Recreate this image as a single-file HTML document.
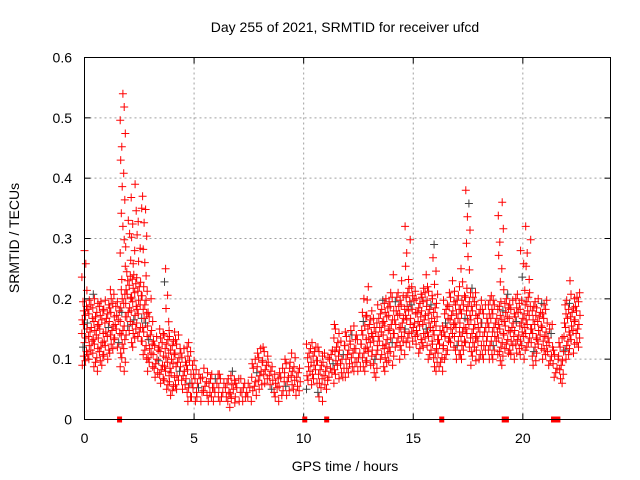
<!DOCTYPE html>
<html><head><meta charset="utf-8"><style>
body{margin:0;background:#fff;}
svg{display:block;font-family:"Liberation Sans",sans-serif;}
</style></head><body>
<svg id="chart" width="640" height="480">
<text x="345" y="32" text-anchor="middle" font-size="14">Day 255 of 2021, SRMTID for receiver ufcd</text>
<text x="345" y="471" text-anchor="middle" font-size="14">GPS time / hours</text>
<text transform="translate(19,238) rotate(-90)" text-anchor="middle" font-size="14">SRMTID / TECUs</text>
<g id="grid"></g>
<g id="ticks"></g>
<g id="marks"></g>
<rect x="84.5" y="57.5" width="526" height="362" fill="none" stroke="#000" stroke-width="1"/>
</svg>
<script>
const xTicks=[0,5,10,15,20];
const yTicks=[0,0.1,0.2,0.3,0.4,0.5,0.6];
const yTickLabels=["0","0.1","0.2","0.3","0.4","0.5","0.6"];
const binTimes=[0,0.25,0.5,0.75,1,1.25,1.5,1.75,2,2.25,2.5,2.75,3,3.25,3.5,3.75,4,4.25,4.5,4.75,5,5.25,5.5,5.75,6,6.25,6.5,6.75,7,7.25,7.5,7.75,8,8.25,8.5,8.75,9,9.25,9.5,9.75,10.25,10.5,10.75,11,11.25,11.5,11.75,12,12.25,12.5,12.75,13,13.25,13.5,13.75,14,14.25,14.5,14.75,15,15.25,15.5,15.75,16,16.25,16.5,16.75,17,17.25,17.5,17.75,18,18.25,18.5,18.75,19,19.25,19.5,19.75,20,20.25,20.5,20.75,21,21.25,21.5,21.75,22,22.25,22.5];
const binLow=[0.09,0.10,0.08,0.09,0.10,0.11,0.12,0.08,0.14,0.12,0.13,0.10,0.08,0.07,0.06,0.05,0.04,0.05,0.05,0.03,0.03,0.03,0.04,0.03,0.03,0.03,0.03,0.02,0.03,0.03,0.03,0.04,0.05,0.06,0.05,0.03,0.04,0.04,0.05,0.04,0.05,0.06,0.03,0.05,0.07,0.06,0.07,0.07,0.08,0.08,0.08,0.09,0.07,0.10,0.08,0.09,0.12,0.10,0.12,0.13,0.11,0.12,0.10,0.08,0.08,0.10,0.12,0.10,0.10,0.12,0.09,0.10,0.10,0.10,0.10,0.09,0.11,0.10,0.11,0.10,0.12,0.09,0.11,0.10,0.09,0.07,0.06,0.10,0.11,0.12];
const binCore=[0.20,0.20,0.21,0.20,0.20,0.22,0.20,0.22,0.25,0.24,0.24,0.22,0.18,0.14,0.15,0.15,0.15,0.14,0.12,0.13,0.10,0.08,0.09,0.08,0.08,0.08,0.07,0.08,0.07,0.07,0.06,0.10,0.12,0.12,0.10,0.08,0.09,0.10,0.11,0.09,0.13,0.13,0.12,0.11,0.12,0.16,0.13,0.15,0.16,0.14,0.18,0.18,0.17,0.20,0.20,0.21,0.21,0.21,0.22,0.22,0.21,0.22,0.22,0.21,0.16,0.20,0.21,0.22,0.21,0.22,0.22,0.20,0.19,0.21,0.20,0.20,0.22,0.20,0.21,0.20,0.21,0.20,0.20,0.20,0.16,0.12,0.14,0.20,0.21,0.21];
const binHigh=[0.28,0.20,0.21,0.20,0.20,0.22,0.20,0.54,0.33,0.39,0.35,0.37,0.20,0.14,0.15,0.25,0.15,0.14,0.12,0.13,0.10,0.08,0.09,0.08,0.08,0.08,0.07,0.08,0.07,0.07,0.06,0.10,0.12,0.12,0.10,0.08,0.09,0.10,0.11,0.09,0.13,0.13,0.12,0.11,0.12,0.16,0.13,0.15,0.16,0.14,0.20,0.22,0.17,0.20,0.21,0.24,0.21,0.23,0.32,0.22,0.21,0.24,0.22,0.29,0.16,0.20,0.23,0.22,0.25,0.38,0.22,0.20,0.19,0.21,0.20,0.36,0.22,0.20,0.21,0.28,0.32,0.20,0.20,0.20,0.16,0.12,0.14,0.21,0.23,0.22];
const zeroTimes=[1.6,10.05,11.05,16.3,19.15,19.25,21.4,21.6];

const NS="http://www.w3.org/2000/svg";
const X0=84.5,X1=610.5,Y0=419.5,Y1=57.5;
function xs(t){return X0+(t/24)*(X1-X0);}
function ys(v){return Y0-(v/0.6)*(Y0-Y1);}
function mk(tag,attrs,parent){const e=document.createElementNS(NS,tag);for(const k in attrs)e.setAttribute(k,attrs[k]);parent.appendChild(e);return e;}
const grid=document.getElementById('grid'),ticks=document.getElementById('ticks'),marks=document.getElementById('marks');
xTicks.forEach(t=>{
  const x=xs(t);
  if(t>0){const g=mk('line',{x1:x,y1:Y0,x2:x,y2:Y1,stroke:'#a0a0a0','stroke-dasharray':'2,3'},grid);
  
  }
  mk('line',{x1:x,y1:Y0,x2:x,y2:Y0-6,stroke:'#000'},ticks);
  mk('line',{x1:x,y1:Y1,x2:x,y2:Y1+6,stroke:'#000'},ticks);
  const l=mk('text',{x:x,y:443,'text-anchor':'middle','font-size':'14'},ticks);
  l.textContent=String(t);
  
  
});
yTicks.forEach((v,i)=>{
  const y=ys(v);
  if(i>0&&i<yTicks.length-1){const g=mk('line',{x1:X0,y1:y,x2:X1,y2:y,stroke:'#a0a0a0','stroke-dasharray':'2,3'},grid);
  
  }
  mk('line',{x1:X0,y1:y,x2:X0+6,y2:y,stroke:'#000'},ticks);
  mk('line',{x1:X1,y1:y,x2:X1-6,y2:y,stroke:'#000'},ticks);
  const l=mk('text',{x:72,y:y+5,'text-anchor':'end','font-size':'14'},ticks);
  l.textContent=yTickLabels[i];
  
  
});
const offs=[-0.1,0.04,-0.03,0.09,-0.07,0.0,0.06,-0.12,0.11,-0.05];
let d1='',d2='',n=0;
binTimes.forEach((t,i)=>{
  const lo=binLow[i],core=Math.min(binCore[i],binHigh[i]),hi=binHigh[i];
  const pts=[];
  for(let v=lo;v<=core+1e-9;v+=0.0075)pts.push(v);
  for(let v=hi;v>core+0.01;v-=0.022)pts.push(v);
  pts.forEach(v=>{
    const x=xs(t+offs[n%offs.length]),y=ys(v);
    const p=`M${(x-4).toFixed(1)} ${y.toFixed(1)}h8M${x.toFixed(1)} ${(y-4).toFixed(1)}v8`;
    if(n%23===4)d2+=p;else d1+=p;
    n++;
  });
});
const g2=mk('path',{d:d2,stroke:'#404040','stroke-width':'1',fill:'none'},marks);


const g1=mk('path',{d:d1,stroke:'#ff0000','stroke-width':'1',fill:'none'},marks);


zeroTimes.forEach(t=>{
  const r=mk('rect',{x:xs(t)-2.5,y:Y0-3,width:5,height:6,fill:'#ff0000'},marks);
  
  
});
</script>
</body></html>
